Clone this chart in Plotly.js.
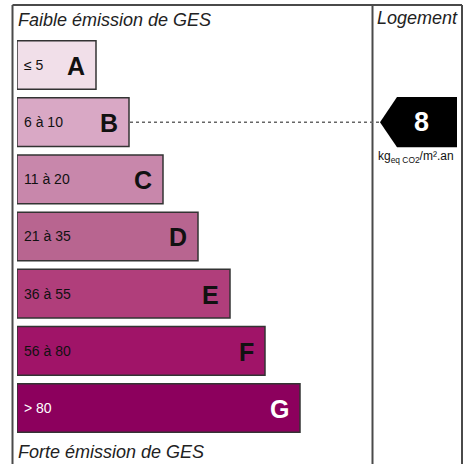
<!DOCTYPE html>
<html>
<head>
<meta charset="utf-8">
<script src="https://cdn.plot.ly/plotly-3.0.1.min.js"></script>
<style>html,body{margin:0;padding:0;background:#fff}#chart{width:471px;height:464px}</style>
</head>
<body>
<div id="chart"></div>
<script>
// ---- data ----
const classes = ['A', 'B', 'C', 'D', 'E', 'F', 'G'];
const rangeLabels = ['\u2264 5', '6 \u00e0 10', '11 \u00e0 20', '21 \u00e0 35', '36 \u00e0 55', '56 \u00e0 80', '> 80'];
const upperBounds = [5, 10, 20, 35, 55, 80, Infinity];
const barLengths = [79, 112, 146, 181, 213, 248, 283];
const housingValue = 8;
const topLabel = 'Faible \u00e9mission de GES';
const bottomLabel = 'Forte \u00e9mission de GES';
const columnLabel = 'Logement';
const unitLabel = 'kg<sub>eq CO2</sub>/m\u00b2.an';

// ---- styles ----
const barColors = ['#f1dfe9', '#d9a8c5', '#c887ab', '#b86590', '#b03e7b', '#a01468', '#8c005d'];
const textColors = ['#111', '#111', '#111', '#111', '#111', '#111', '#fff'];
const W = 471, H = 464;
const px = v => v / W;
const py = v => 1 - v / H;

const idx = classes.map((c, i) => i);
const cls = upperBounds.findIndex(u => housingValue <= u);

const trace = {
  type: 'bar',
  orientation: 'h',
  x: barLengths,
  y: idx,
  marker: { color: barColors, line: { color: '#333', width: 1.5 } },
  hoverinfo: 'skip',
  width: 0.85
};

const annotations = [];
idx.forEach(i => {
  annotations.push({
    x: 0, y: i, xref: 'x', yref: 'y', text: rangeLabels[i], showarrow: false,
    xanchor: 'left', yanchor: 'middle', xshift: 5,
    font: { family: 'Liberation Sans, Arial, sans-serif', size: 14, color: textColors[i] }
  });
  annotations.push({
    x: barLengths[i], y: i, xref: 'x', yref: 'y', text: classes[i], showarrow: false,
    xanchor: 'right', yanchor: 'middle', xshift: -9, yshift: -1,
    font: { family: 'Liberation Sans, Arial, sans-serif', size: 25, weight: 'bold', color: textColors[i] }
  });
});
annotations.push({
  x: px(16), y: py(20), xref: 'paper', yref: 'paper', text: topLabel, showarrow: false,
  xanchor: 'left', yanchor: 'middle',
  font: { family: 'Liberation Sans, Arial, sans-serif', size: 18, style: 'italic', color: '#222' }
});
annotations.push({
  x: px(16), y: py(452), xref: 'paper', yref: 'paper', text: bottomLabel, showarrow: false,
  xanchor: 'left', yanchor: 'middle',
  font: { family: 'Liberation Sans, Arial, sans-serif', size: 18, style: 'italic', color: '#222' }
});
annotations.push({
  x: px(417), y: py(18), xref: 'paper', yref: 'paper', text: columnLabel, showarrow: false,
  xanchor: 'center', yanchor: 'middle',
  font: { family: 'Liberation Sans, Arial, sans-serif', size: 18, style: 'italic', color: '#222' }
});
annotations.push({
  x: px(416), y: py(157), xref: 'paper', yref: 'paper', text: unitLabel, showarrow: false,
  xanchor: 'center', yanchor: 'middle',
  font: { family: 'Liberation Sans, Arial, sans-serif', size: 12, color: '#111' }
});

// arrow geometry (pixel-scaled x axis: data 0 at bar start)
const tipX = 363, shoulderX = 380, endX = 440, half = 0.44;
annotations.push({
  x: (shoulderX + endX) / 2 - 6, y: cls, xref: 'x', yref: 'y', text: String(housingValue), showarrow: false,
  xanchor: 'center', yanchor: 'middle',
  font: { family: 'Liberation Sans, Arial, sans-serif', size: 27, weight: 'bold', color: '#fff' }
});

const lineStyle = { color: '#4a4a4a', width: 2 };
const shapes = [
  { type: 'line', xref: 'paper', yref: 'paper', x0: px(12.5), x1: px(462), y0: py(5), y1: py(5), line: lineStyle },
  { type: 'line', xref: 'paper', yref: 'paper', x0: px(12.5), x1: px(12.5), y0: py(5), y1: 0, line: lineStyle },
  { type: 'line', xref: 'paper', yref: 'paper', x0: px(372.5), x1: px(372.5), y0: py(5), y1: 0, line: lineStyle },
  { type: 'line', xref: 'paper', yref: 'paper', x0: px(462), x1: px(462), y0: py(5), y1: 0, line: lineStyle },
  { type: 'line', xref: 'x', yref: 'y', x0: barLengths[cls] + 1, x1: tipX, y0: cls, y1: cls,
    line: { color: '#666', width: 1.5, dash: 'dot' } },
  { type: 'path', xref: 'x', yref: 'y',
    path: `M ${tipX},${cls} L ${shoulderX},${cls - half} L ${endX},${cls - half} L ${endX},${cls + half} L ${shoulderX},${cls + half} Z`,
    fillcolor: '#000', line: { width: 0 } }
];

const layout = {
  width: W, height: H,
  margin: { l: 0, r: 0, t: 0, b: 0 },
  paper_bgcolor: '#fff', plot_bgcolor: 'rgba(0,0,0,0)',
  showlegend: false,
  xaxis: { domain: [px(17), 1], range: [0, W - 17], visible: false, fixedrange: true },
  yaxis: { domain: [py(436.6), py(36.4)], range: [6.5, -0.5], visible: false, fixedrange: true },
  annotations: annotations,
  shapes: shapes
};

Plotly.newPlot('chart', [trace], layout, { displayModeBar: false, staticPlot: true });
</script>
</body>
</html>
